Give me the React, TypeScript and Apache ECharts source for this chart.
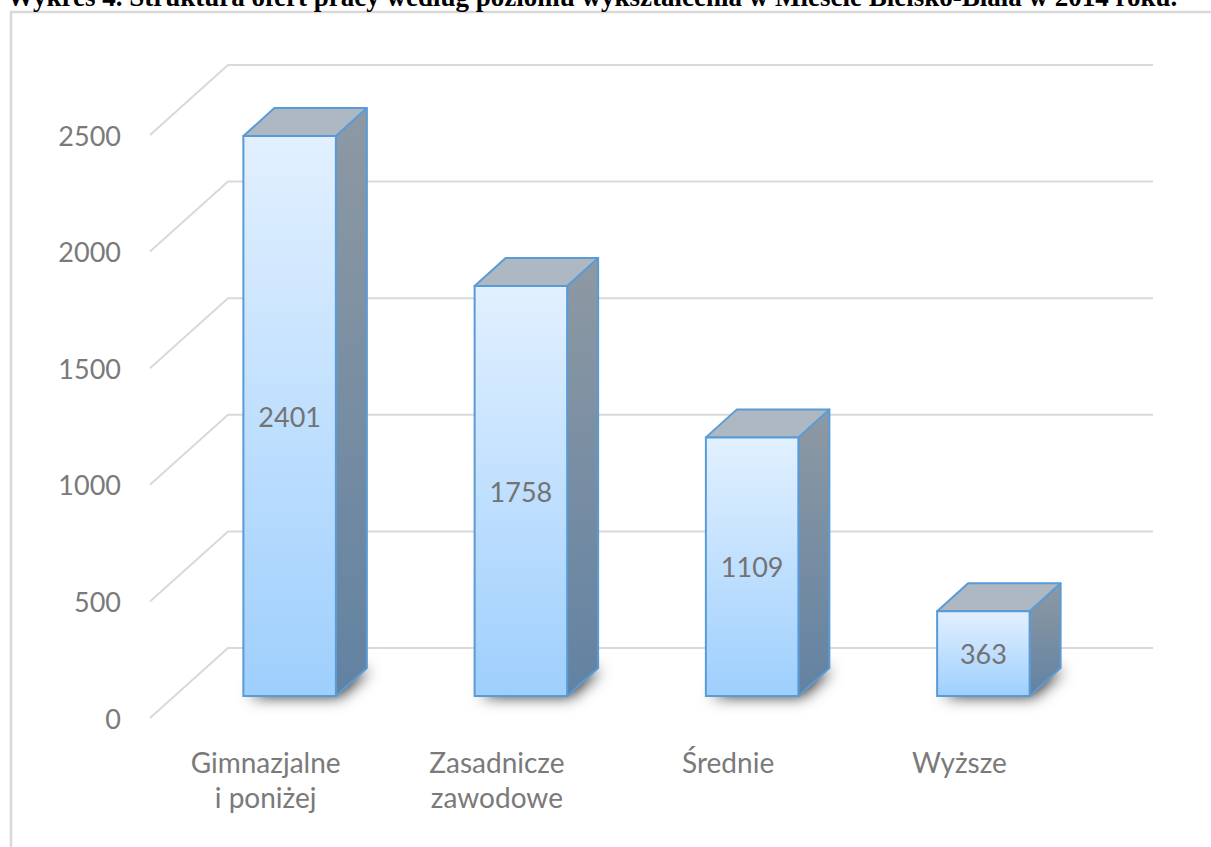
import React, { useEffect, useRef } from "react";
import * as echarts from "echarts";

const titleText =
  "Wykres 4. Struktura ofert pracy według poziomu wykształcenia w Mieście Bielsko-Biała w 2014 roku.";
const categories = ["Gimnazjalne\ni poniżej", "Zasadnicze\nzawodowe", "Średnie", "Wyższe"];
const values = [2401, 1758, 1109, 363];
const yTicks = [0, 500, 1000, 1500, 2000, 2500];

// 3D projection offsets (pixels)
const WALL_DX = 78;
const WALL_DY = -70;
const FRONT_DX = 24;
const FRONT_DY = -22;
const DEPTH_DX = 31;
const DEPTH_DY = -28;

const LABEL_FONT = "Lato";
const BORDER = "#5B9BD5";

export default function App() {
  const ref = useRef<HTMLDivElement>(null);

  useEffect(() => {
    if (!ref.current) return;
    const chart = echarts.init(ref.current, null, { renderer: "svg" });

    const frontGrad = new echarts.graphic.LinearGradient(0, 0, 0, 1, [
      { offset: 0, color: "#E2F0FF" },
      { offset: 1, color: "#9ECFFD" },
    ]);
    const sideGrad = new echarts.graphic.LinearGradient(0, 0, 0, 1, [
      { offset: 0, color: "#8E99A3" },
      { offset: 1, color: "#6282A2" },
    ]);

    const option: any = {
      animation: false,
      backgroundColor: "#ffffff",
      graphic: [
        {
          type: "text",
          x: 7,
          y: -3,
          z: 10,
          style: {
            text: titleText,
            fill: "#000000",
            font: 'bold 27px "Liberation Serif"',
            verticalAlign: "middle",
            align: "left",
          },
        },
        {
          type: "polyline",
          shape: { points: [[11, 847], [11, 12], [1211, 12]] },
          style: { stroke: "#D9D9D9", lineWidth: 2.5, fill: "none" },
        },
      ],
      grid: { left: 150, right: 136, top: 135, bottom: 129 },
      xAxis: {
        type: "category",
        data: categories,
        axisLine: { show: false },
        axisTick: { show: false },
        splitLine: { show: false },
        axisLabel: {
          margin: 26,
          lineHeight: 35,
          fontFamily: LABEL_FONT,
          fontSize: 28,
          color: "#7A7A7A",
        },
      },
      yAxis: {
        type: "value",
        min: 0,
        max: 2500,
        interval: 500,
        axisLine: { show: false },
        axisTick: { show: false },
        splitLine: { show: false },
        axisLabel: {
          margin: 29,
          fontFamily: LABEL_FONT,
          fontSize: 27,
          color: "#7A7A7A",
          formatter: (v: number) => String(v),
        },
      },
      series: [
        {
          type: "custom",
          name: "grid",
          silent: true,
          z: 1,
          data: yTicks.map((v) => [0, v]),
          renderItem: (params: any, api: any) => {
            const v = api.value(1);
            const p = api.coord([0, v]);
            const cs = params.coordSys;
            return {
              type: "polyline",
              shape: {
                points: [
                  [cs.x, p[1]],
                  [cs.x + WALL_DX, p[1] + WALL_DY],
                  [cs.x + cs.width + WALL_DX, p[1] + WALL_DY],
                ],
              },
              style: { stroke: "#D9D9D9", lineWidth: 2, fill: "none" },
            };
          },
        },
        {
          type: "custom",
          name: "bars",
          z: 2,
          data: values.map((v, i) => [i, v]),
          renderItem: (params: any, api: any) => {
            const i = api.value(0);
            const v = api.value(1);
            const base = api.coord([i, 0]);
            const top = api.coord([i, v]);
            const w = api.size([1, 0])[0] * 0.4;
            const cx = base[0] + FRONT_DX;
            const L = cx - w / 2;
            const R = cx + w / 2;
            const B = base[1] + FRONT_DY;
            const T = top[1] + FRONT_DY;
            return {
              type: "group",
              children: [
                {
                  type: "polygon",
                  shape: {
                    points: [
                      [L + 2, B - 1],
                      [R, B - 1],
                      [R + DEPTH_DX - 2, B + DEPTH_DY + 1],
                      [L + DEPTH_DX, B + DEPTH_DY + 1],
                    ],
                  },
                  style: {
                    fill: "#333333",
                    shadowBlur: 16,
                    shadowColor: "rgba(0,0,0,0.9)",
                    shadowOffsetX: 4,
                    shadowOffsetY: 1,
                  },
                },
                {
                  type: "polygon",
                  shape: {
                    points: [
                      [R, T],
                      [R + DEPTH_DX, T + DEPTH_DY],
                      [R + DEPTH_DX, B + DEPTH_DY],
                      [R, B],
                    ],
                  },
                  style: { fill: sideGrad, stroke: BORDER, lineWidth: 2, lineJoin: "round" },
                },
                {
                  type: "polygon",
                  shape: {
                    points: [
                      [L, T],
                      [R, T],
                      [R + DEPTH_DX, T + DEPTH_DY],
                      [L + DEPTH_DX, T + DEPTH_DY],
                    ],
                  },
                  style: { fill: "#ADB8C3", stroke: BORDER, lineWidth: 2, lineJoin: "round" },
                },
                {
                  type: "rect",
                  shape: { x: L, y: T, width: w, height: B - T },
                  style: { fill: frontGrad, stroke: BORDER, lineWidth: 2 },
                },
                {
                  type: "text",
                  x: cx,
                  y: (T + B) / 2,
                  style: {
                    text: String(v),
                    fill: "#737373",
                    font: `27px ${LABEL_FONT}`,
                    align: "center",
                    verticalAlign: "middle",
                  },
                },
              ],
            };
          },
        },
      ],
    };

    chart.setOption(option);
    return () => chart.dispose();
  }, []);

  return (
    <div
      ref={ref}
      style={{ position: "fixed", left: 0, top: 0, width: 1211, height: 847, background: "#fff" }}
    />
  );
}
